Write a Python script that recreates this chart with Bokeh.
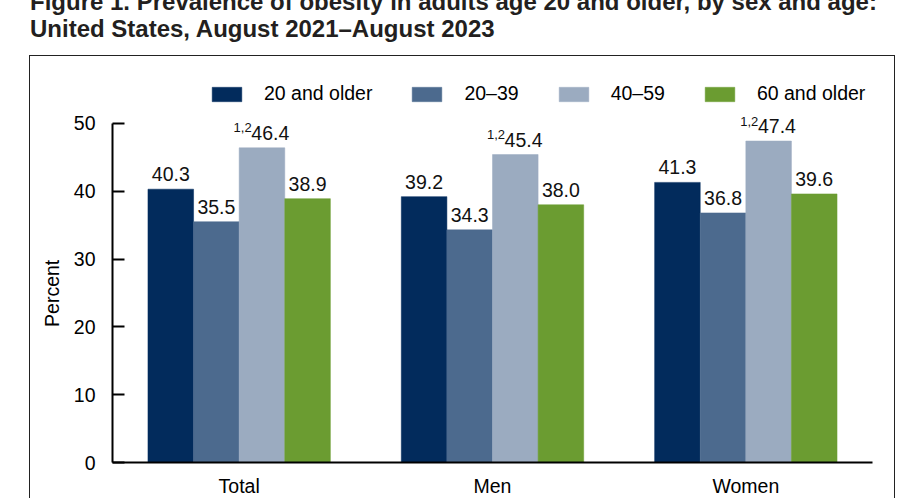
from bokeh.plotting import figure
from bokeh.layouts import column
from bokeh.models import (ColumnDataSource, FactorRange, Range1d, FixedTicker, Legend, LegendItem, Div)
from bokeh.transform import dodge
from bokeh.core.properties import value
from bokeh.embed import file_html
from bokeh.resources import INLINE

# ---- data ----
categories = ["Total", "Men", "Women"]
series_names = ["20 and older", "20–39", "40–59", "60 and older"]
vals_20_older = [40.3, 39.2, 41.3]
vals_20_39 = [35.5, 34.3, 36.8]
vals_40_59 = [46.4, 45.4, 47.4]
vals_60_older = [38.9, 38.0, 39.6]
notes_40_59 = ["1,2", "1,2", "1,2"]
y_ticks = [0, 10, 20, 30, 40, 50]

title_line1 = "Figure 1. Prevalence of obesity in adults age 20 and older, by sex and age:"
title_line2 = "United States, August 2021–August 2023"
y_label = "Percent"

colors = ["#022b5c", "#4c6a8e", "#9babc0", "#6b9c31"]
offsets = [-0.27, -0.09, 0.09, 0.27]
all_vals = [vals_20_older, vals_20_39, vals_40_59, vals_60_older]

FONT = "Liberation Sans"
FS = "19.5px"

# ---- title strip (HTML text) ----
title_html = (
    "<div style=\"font-family:'Liberation Sans',Arial,sans-serif;font-weight:bold;font-size:24px;"
    "line-height:27px;color:#231f20;margin:-12px 0 0 30px;white-space:nowrap;\">"
    f"{title_line1}<br>{title_line2}</div>"
)
t = Div(text=title_html, width=904, height=55, margin=(0, 0, 0, 0), styles={"overflow": "visible"})

# ---- main chart ----
p = figure(x_range=FactorRange(*categories), y_range=Range1d(0, 57.06),
           width=866, height=443, output_backend="svg", toolbar_location=None,
           min_border_left=82, min_border_right=24, min_border_top=19, min_border_bottom=36)
p.styles = {"border-left": "1.5px solid #222", "border-top": "1.5px solid #222",
            "border-right": "1.5px solid #222", "margin-left": "29px"}
p.outline_line_color = None
p.grid.visible = False

renderers = []
for name, vals, col, off in zip(series_names, all_vals, colors, offsets):
    src = ColumnDataSource(dict(cat=categories, top=vals, lab=[f"{v:.1f}" for v in vals]))
    r = p.vbar(x=dodge("cat", off, range=p.x_range), top="top", width=0.18, source=src,
               fill_color=col, line_color=col, line_width=0.5)
    renderers.append(r)
    if name == "40–59":
        src.data["note"] = notes_40_59
        p.text(x=dodge("cat", off, range=p.x_range), y="top", text="lab", source=src,
               text_align="center", text_baseline="alphabetic", x_offset=8.3, y_offset=-15,
               text_font=value(FONT), text_font_size=FS, text_color="#111111")
        p.text(x=dodge("cat", off, range=p.x_range), y="top", text="note", source=src,
               text_align="right", text_baseline="alphabetic", x_offset=-10.3, y_offset=-20,
               text_font=value(FONT), text_font_size="13px", text_color="#111111")
    else:
        p.text(x=dodge("cat", off, range=p.x_range), y="top", text="lab", source=src,
               text_align="center", text_baseline="alphabetic", y_offset=-15,
               text_font=value(FONT), text_font_size=FS, text_color="#111111")

xa = p.xaxis[0]
xa.axis_line_width = 2
xa.axis_line_color = "#000000"
xa.major_tick_in = 0
xa.major_tick_out = 0
xa.minor_tick_in = 0
xa.minor_tick_out = 0
xa.major_label_standoff = 12
xa.major_label_text_font = FONT
xa.major_label_text_font_size = FS
xa.major_label_text_color = "#000000"

ya = p.yaxis[0]
ya.ticker = FixedTicker(ticks=y_ticks)
ya.bounds = (0, 50)
ya.axis_line_width = 2
ya.axis_line_color = "#000000"
ya.major_tick_in = 12
ya.major_tick_out = 0
ya.major_tick_line_width = 2
ya.minor_tick_in = 0
ya.minor_tick_out = 0
ya.major_label_standoff = 17
ya.major_label_text_font = FONT
ya.major_label_text_font_size = FS
ya.major_label_text_color = "#000000"
# trailing no-break spaces centre the visible word on the 0-50 span rather than the whole frame
ya.axis_label = y_label + "\u00a0" * 9
ya.axis_label_text_font = FONT
ya.axis_label_text_font_size = FS
ya.axis_label_text_font_style = "normal"
ya.axis_label_text_color = "#000000"
ya.axis_label_standoff = 8

legend = Legend(items=[LegendItem(label=n, renderers=[r]) for n, r in zip(series_names, renderers)],
                orientation="horizontal", location=(96, 357), padding=0, margin=0,
                spacing=36, label_standoff=19, glyph_width=37, glyph_height=18,
                border_line_color=None, background_fill_alpha=0,
                label_text_font=FONT, label_text_font_size=FS, label_text_color="#000000")
p.add_layout(legend, "center")

open("out.html", "w").write(file_html(column(t, p, spacing=0), INLINE))
